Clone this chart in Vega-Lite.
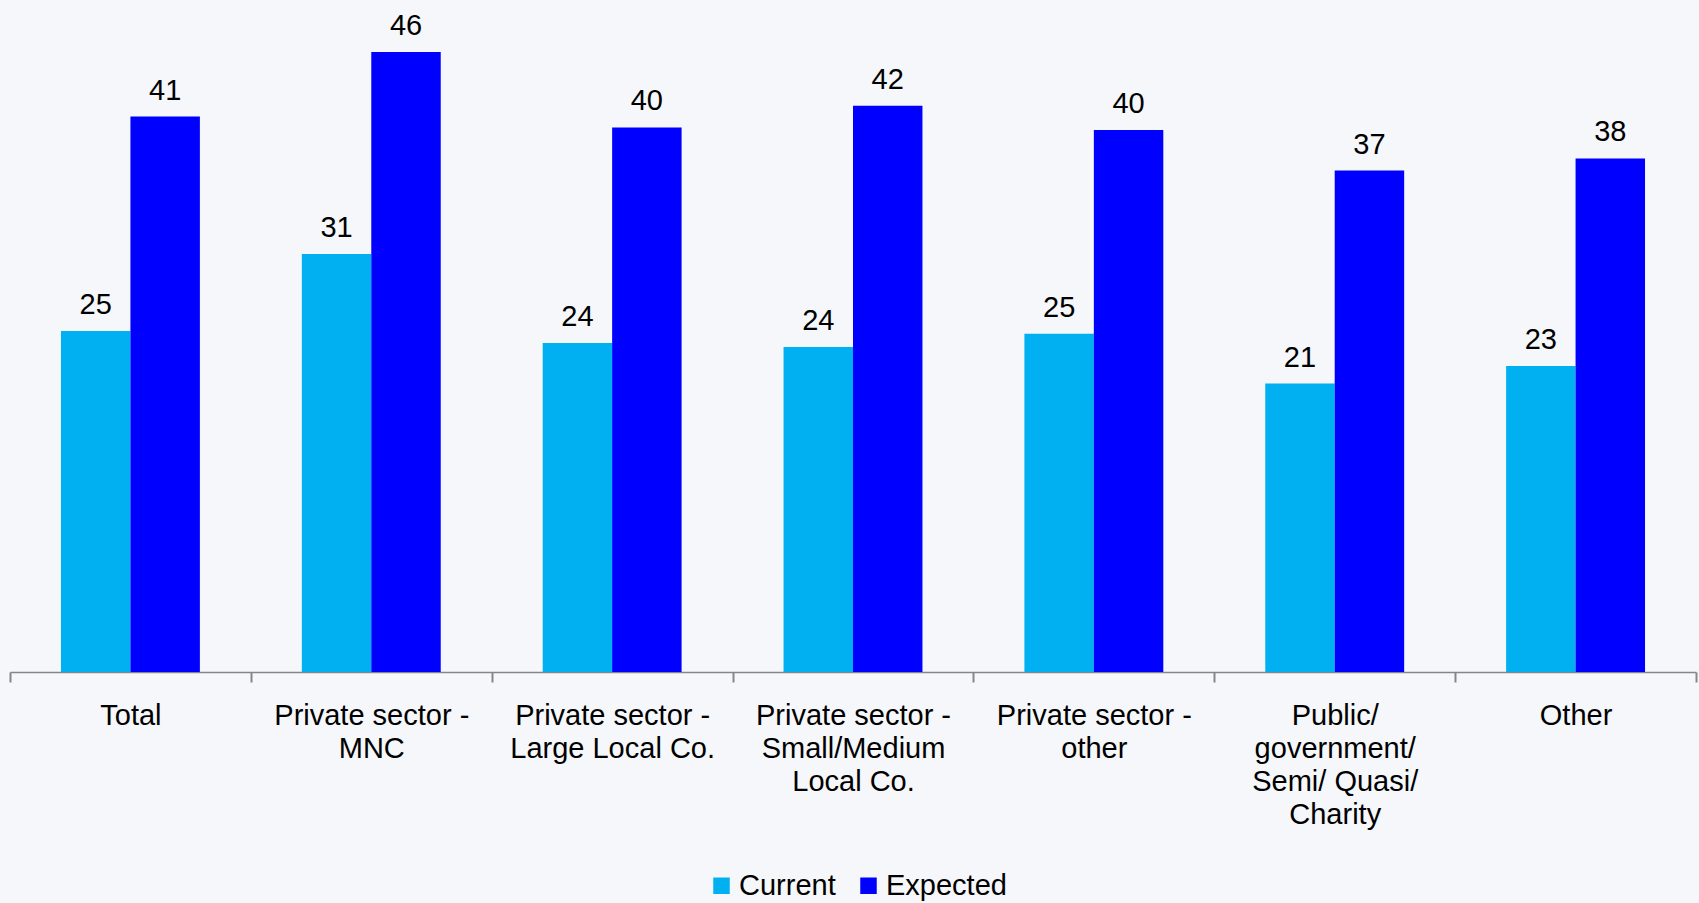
{
  "$schema": "https://vega.github.io/schema/vega-lite/v6.json",
  "autosize": "none",
  "width": 1686,
  "height": 672,
  "padding": {"left": 10, "top": 0, "right": 3, "bottom": 231},
  "background": "#f5f7fa",
  "config": {
    "view": {"stroke": null},
    "font": "Liberation Sans, Arial, sans-serif"
  },
  "data": {
    "values": [
      {"category": "Total", "series": "Current", "value": 25.3},
      {"category": "Total", "series": "Expected", "value": 41.2},
      {"category": "Private sector - MNC", "series": "Current", "value": 31.0},
      {"category": "Private sector - MNC", "series": "Expected", "value": 46.0},
      {"category": "Private sector - Large Local Co.", "series": "Current", "value": 24.4},
      {"category": "Private sector - Large Local Co.", "series": "Expected", "value": 40.4},
      {"category": "Private sector - Small/Medium Local Co.", "series": "Current", "value": 24.1},
      {"category": "Private sector - Small/Medium Local Co.", "series": "Expected", "value": 42.0},
      {"category": "Private sector - other", "series": "Current", "value": 25.1},
      {"category": "Private sector - other", "series": "Expected", "value": 40.2},
      {"category": "Public/ government/ Semi/ Quasi/ Charity", "series": "Current", "value": 21.4},
      {"category": "Public/ government/ Semi/ Quasi/ Charity", "series": "Expected", "value": 37.2},
      {"category": "Other", "series": "Current", "value": 22.7},
      {"category": "Other", "series": "Expected", "value": 38.1}
    ]
  },
  "encoding": {
    "x": {
      "field": "category",
      "type": "nominal",
      "sort": null,
      "scale": {"paddingInner": 0, "paddingOuter": 0},
      "axis": {
        "title": null,
        "labelAngle": 0,
        "labelFontSize": 29,
        "labelColor": "#000000",
        "labelLineHeight": 33,
        "labelPadding": 19,
        "labelBaseline": "top",
        "labelLimit": 0,
        "tickBand": "extent",
        "tickSize": 10,
        "tickWidth": 2,
        "tickColor": "#868686",
        "domainColor": "#868686",
        "domainWidth": 1.5,
        "labelExpr": "datum.value == 'Private sector - MNC' ? ['Private sector -', 'MNC'] : datum.value == 'Private sector - Large Local Co.' ? ['Private sector -', 'Large Local Co.'] : datum.value == 'Private sector - Small/Medium Local Co.' ? ['Private sector -', 'Small/Medium', 'Local Co.'] : datum.value == 'Private sector - other' ? ['Private sector -', 'other'] : datum.value == 'Public/ government/ Semi/ Quasi/ Charity' ? ['Public/', 'government/', 'Semi/ Quasi/', 'Charity'] : datum.value"
      }
    },
    "xOffset": {
      "field": "series",
      "type": "nominal",
      "scale": {"paddingInner": 0, "paddingOuter": 0.734}
    },
    "y": {
      "field": "value",
      "type": "quantitative",
      "scale": {"domain": [0, 49.85], "nice": false},
      "axis": null
    }
  },
  "layer": [
    {
      "mark": {"type": "bar"},
      "encoding": {
        "color": {
          "field": "series",
          "type": "nominal",
          "scale": {"domain": ["Current", "Expected"], "range": ["#00B0F0", "#0000FF"]},
          "legend": {
            "title": null,
            "orient": "none",
            "direction": "horizontal",
            "legendX": 697,
            "legendY": 871,
            "padding": 0,
            "symbolType": "square",
            "symbolSize": 272,
            "symbolStrokeWidth": 0,
            "labelFontSize": 29,
            "labelColor": "#000000",
            "labelOffset": 3,
            "columnPadding": 18,
            "labelLimit": 0
          }
        }
      }
    },
    {
      "mark": {"type": "text", "baseline": "alphabetic", "dy": -17, "fontSize": 29, "color": "#000000"},
      "encoding": {
        "text": {"field": "value", "type": "quantitative", "format": ".0f"}
      }
    }
  ]
}
